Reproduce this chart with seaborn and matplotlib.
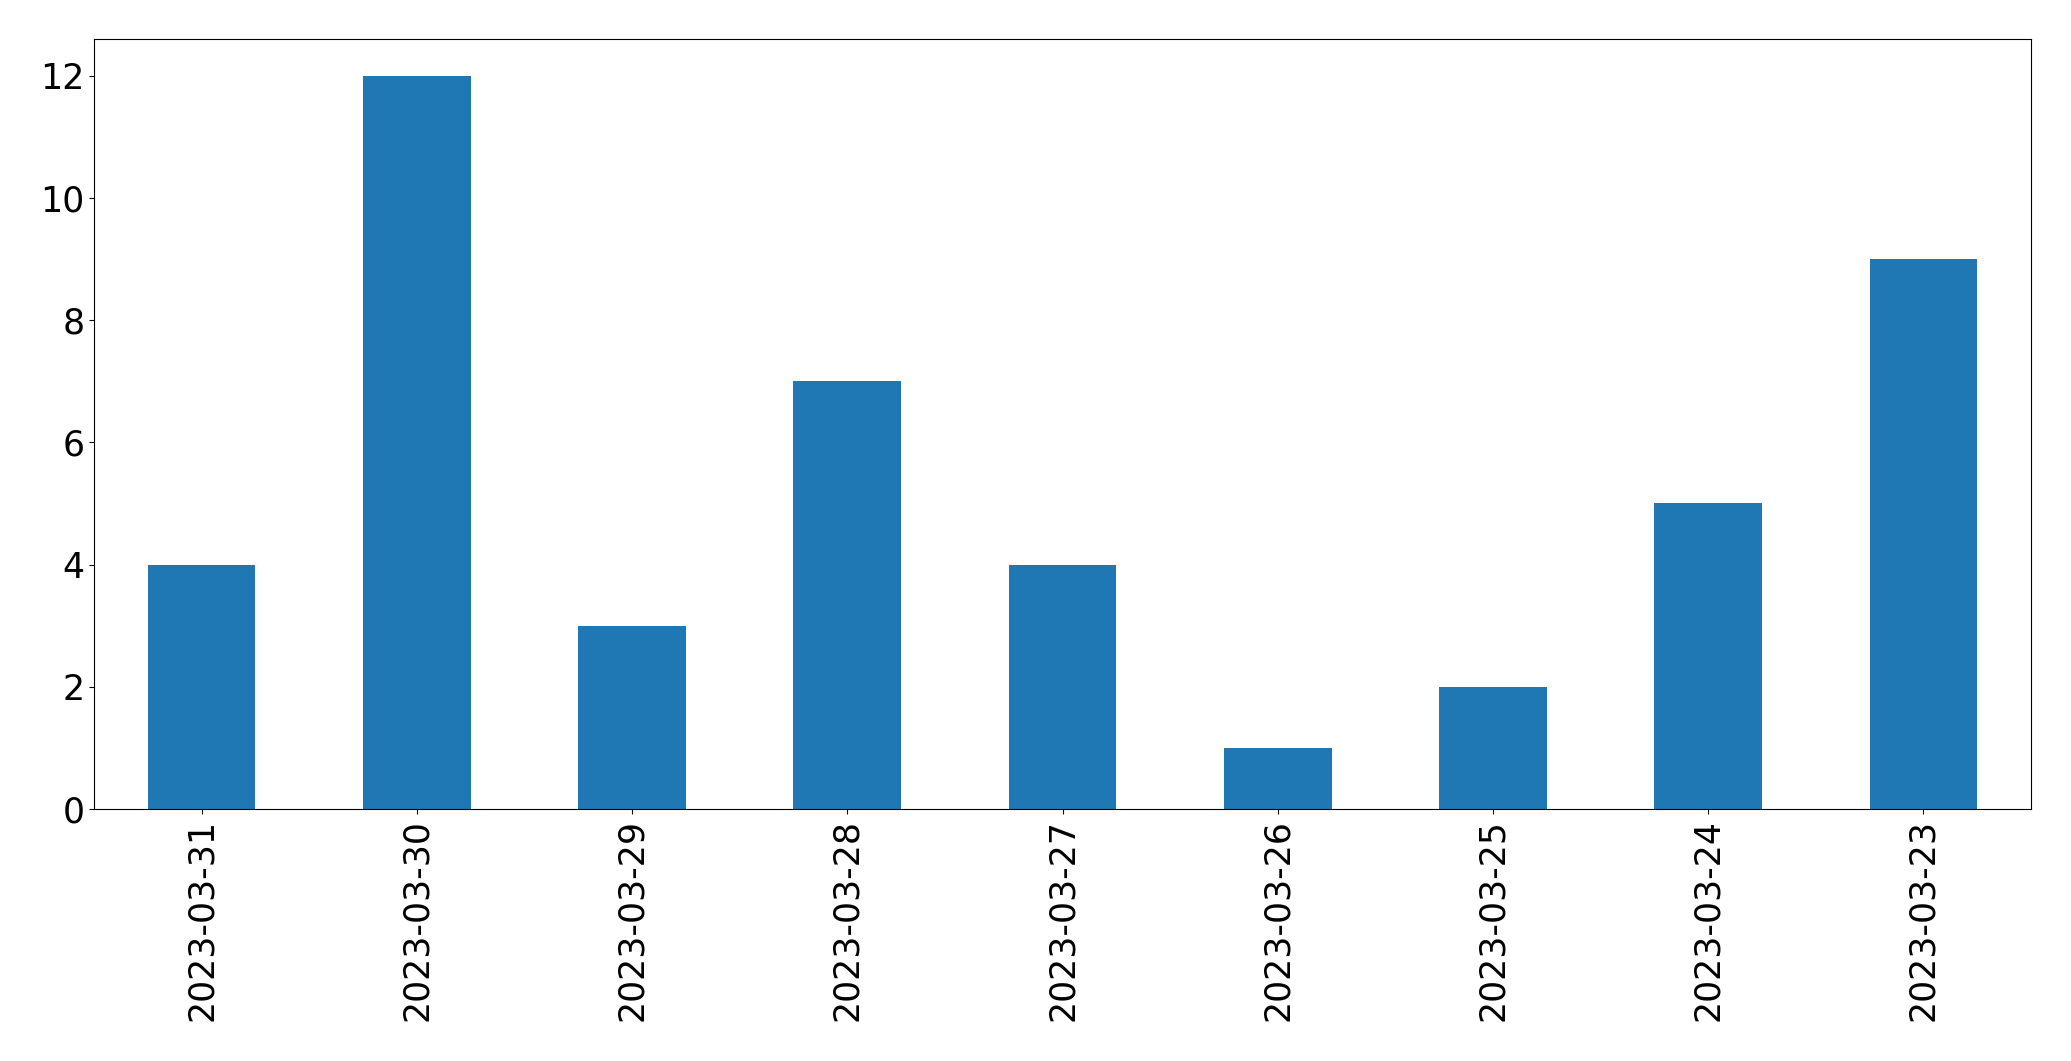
import matplotlib
matplotlib.use("Agg")
import matplotlib.pyplot as plt
import seaborn as sns
import pandas as pd

dates = ["2023-03-31", "2023-03-30", "2023-03-29", "2023-03-28", "2023-03-27",
         "2023-03-26", "2023-03-25", "2023-03-24", "2023-03-23"]
counts = [4, 12, 3, 7, 4, 1, 2, 5, 9]

df = pd.DataFrame({"date": dates, "count": counts})

fig = plt.figure(figsize=(20.71, 10.61), dpi=100)
ax = fig.add_axes([94 / 2071, 1 - 809 / 1061, (2031 - 94) / 2071, (809 - 39) / 1061])
sns.barplot(data=df, x="date", y="count", order=dates, color="#1f77b4",
            saturation=1, width=0.5, ax=ax, errorbar=None)
ax.set_xlim(-0.5, len(dates) - 0.5)
ax.set_ylim(0, 12.6)
ax.set_xlabel("")
ax.set_ylabel("")
ax.tick_params(axis="both", labelsize=25)
ax.tick_params(axis="x", labelrotation=90)
for s in ax.spines.values():
    s.set_visible(True)
    s.set_color("black")
fig.savefig("out.png", dpi=100)
